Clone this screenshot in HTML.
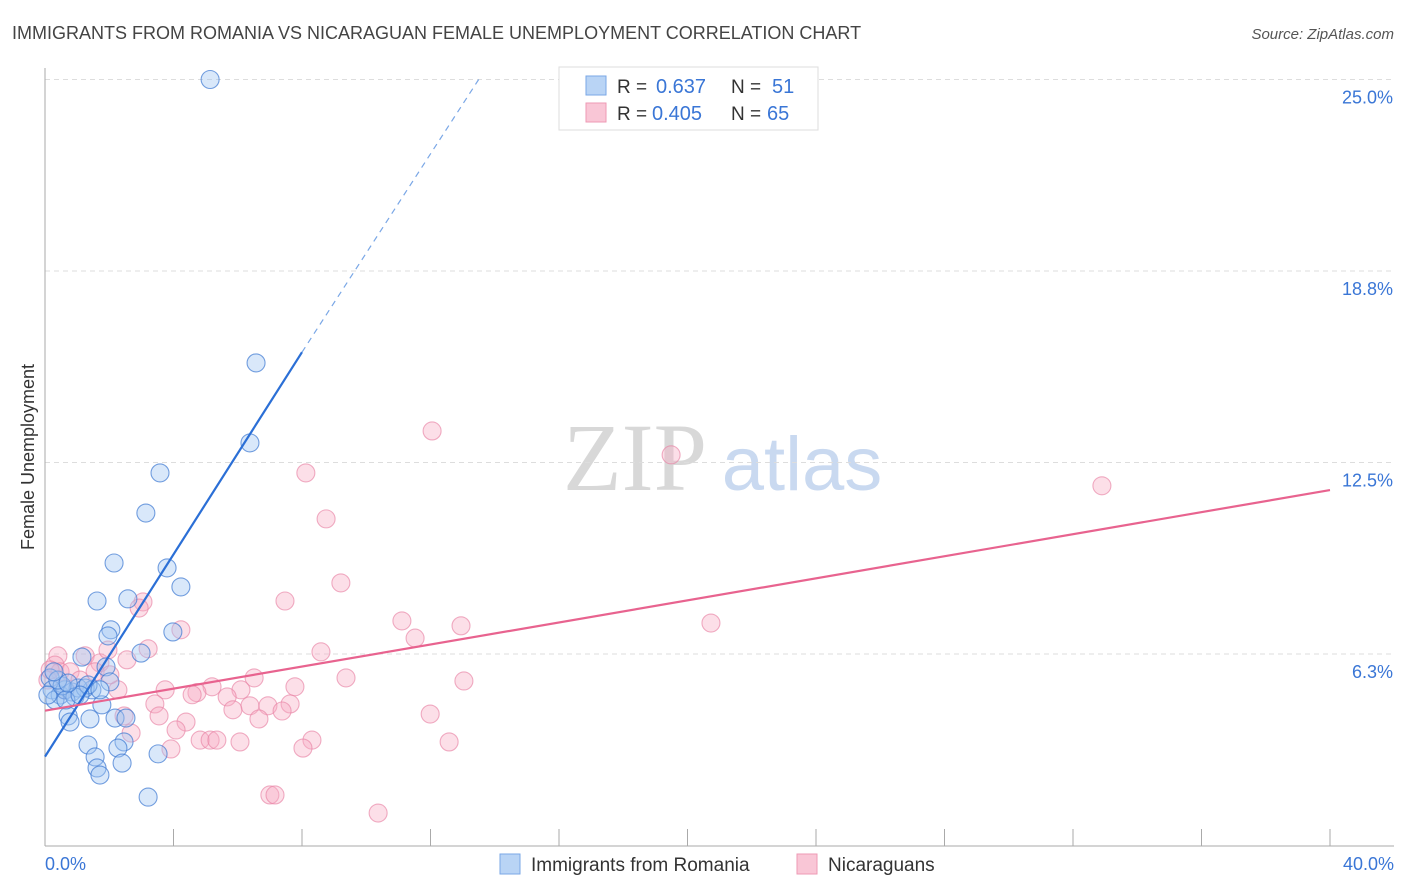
<!DOCTYPE html>
<html><head><meta charset="utf-8"><style>
body{margin:0;background:#fff;font-family:"Liberation Sans",sans-serif;}
#c{position:relative;width:1406px;height:892px;overflow:hidden;}
</style></head><body>
<div id="c">
<svg id="s" width="1406" height="892" xmlns="http://www.w3.org/2000/svg">
<text x="12" y="39" font-size="18" fill="#444">IMMIGRANTS FROM ROMANIA VS NICARAGUAN FEMALE UNEMPLOYMENT CORRELATION CHART</text>
<text x="1394" y="39" font-size="15" font-style="italic" fill="#555" text-anchor="end">Source: ZipAtlas.com</text>
<text x="34" y="457" font-size="18" fill="#333" text-anchor="middle" transform="rotate(-90 34 457)">Female Unemployment</text>
<g><text x="635" y="490" font-size="96" font-family="Liberation Serif,serif" fill="#d8d8d8" text-anchor="middle">ZIP</text><text x="802" y="490" font-size="76" fill="#c9d9f0" text-anchor="middle">atlas</text></g>
<g id="grid"></g><g id="axes"></g><g id="pts"></g><g id="lines"></g>
<g>
<rect x="559" y="67" width="259" height="63" fill="#fff" stroke="#ddd"/>
<rect x="586" y="76" width="20" height="19" fill="#b9d4f5" stroke="#7aa7e6"/>
<rect x="586" y="103" width="20" height="19" fill="#f9c6d6" stroke="#ee9ab4"/>
<text x="617" y="93" font-size="19" fill="#333">R =</text><text x="656" y="93" font-size="20" fill="#3a76d6">0.637</text>
<text x="731" y="93" font-size="19" fill="#333">N =</text><text x="772" y="93" font-size="20" fill="#3a76d6">51</text>
<text x="617" y="120" font-size="19" fill="#333">R =</text><text x="652" y="120" font-size="20" fill="#3a76d6">0.405</text>
<text x="731" y="120" font-size="19" fill="#333">N =</text><text x="767" y="120" font-size="20" fill="#3a76d6">65</text>
</g>
<g>
<rect x="500" y="854" width="20" height="20" fill="#b9d4f5" stroke="#7aa7e6"/>
<text x="531" y="871" font-size="19" fill="#333">Immigrants from Romania</text>
<rect x="797" y="854" width="20" height="20" fill="#f9c6d6" stroke="#ee9ab4"/>
<text x="828" y="871" font-size="19" fill="#333">Nicaraguans</text>
</g>
</svg>
</div>
<script>
const xTicks=[0,40];
const yTicks=[6.25,12.5,18.75,25];
const yTickLabels=["6.3%","12.5%","18.8%","25.0%"];
const blueX=[5.14,6.57,6.38,3.58,3.14,2.15,3.80,4.23,1.62,2.58,2.05,1.96,3.98,2.99,1.15,1.90,2.02,1.46,1.77,0.72,0.78,1.40,2.18,2.52,2.46,1.34,2.27,1.56,1.62,1.71,2.40,3.52,3.21,0.16,0.22,0.47,0.31,0.62,0.84,1.03,1.25,0.93,1.34,0.09,0.53,0.40,0.65,0.28,1.09,0.72,1.71];
const blueY=[25.0,15.75,13.14,12.16,10.85,9.22,9.06,8.44,7.98,8.05,7.04,6.84,6.97,6.28,6.15,5.83,5.34,5.08,4.59,4.23,4.03,4.13,4.16,4.16,3.38,3.28,3.18,2.89,2.53,2.30,2.69,2.99,1.58,5.47,5.08,4.91,4.75,5.08,5.01,5.14,5.14,4.85,5.24,4.91,5.21,5.40,4.75,5.67,4.91,5.30,5.08];
const pinkX=[12.05,8.12,19.49,32.90,8.75,9.21,7.47,3.05,2.93,11.11,12.95,20.73,11.52,4.23,3.21,8.59,0.40,1.25,2.55,1.71,6.51,9.37,13.04,7.78,5.20,6.10,3.74,2.27,4.73,4.58,5.67,3.42,7.63,6.38,5.85,6.94,7.38,2.46,3.55,6.66,11.99,4.39,4.08,2.68,4.83,5.14,5.35,6.07,8.31,8.03,3.92,12.58,7.00,7.16,10.37,0.31,0.47,0.78,0.09,1.09,1.56,1.96,0.62,0.16,2.02];
const pinkY=[13.53,12.16,12.75,11.74,10.66,8.57,7.98,7.95,7.75,7.33,7.17,7.26,6.77,7.04,6.42,6.32,6.19,6.19,6.06,5.96,5.47,5.47,5.37,5.18,5.18,5.08,5.08,5.08,4.99,4.92,4.85,4.62,4.62,4.56,4.43,4.56,4.39,4.23,4.23,4.13,4.29,4.03,3.77,3.67,3.44,3.44,3.44,3.38,3.44,3.18,3.15,3.38,1.65,1.65,1.06,5.89,5.67,5.67,5.40,5.40,5.67,6.38,5.08,5.73,5.57];
const blueTrend=[[0,2.9],[8.0,16.1],[13.5,25.0]];
const pinkTrend=[[0,4.4],[40,11.6]];
const NS="http://www.w3.org/2000/svg";
const X0=45,X1=1330,YB=845.5,PX=191.5/6.25;
const sx=v=>X0+v/40*(X1-X0);
const sy=v=>YB-v*PX;
function mk(t,a,p){const e=document.createElementNS(NS,t);for(const k in a)e.setAttribute(k,a[k]);p.appendChild(e);return e;}
const grid=document.getElementById('grid'),axes=document.getElementById('axes');
yTicks.forEach((t,i)=>{
 const l=mk('line',{x1:45,x2:1394,y1:sy(t),y2:sy(t),stroke:'#ddd','stroke-dasharray':'5,4'},grid);
 
 
 const tx=mk('text',{x:1393,y:sy(t)+24,'font-size':18,fill:'#3a76d6','text-anchor':'end'},axes);
 tx.textContent=yTickLabels[i];
 
 
});
const ax=mk('line',{x1:45,x2:45,y1:68,y2:846,stroke:'#aaa'},axes);


const bx=mk('line',{x1:45,x2:1394,y1:846,y2:846,stroke:'#aaa'},axes);


for(let i=1;i<=10;i++){const t=mk('line',{x1:sx(i*4),x2:sx(i*4),y1:829,y2:846,stroke:'#aaa'},axes);
 
 }
xTicks.forEach((t,i)=>{const tx=mk('text',{x:i?1394:45,y:870,'font-size':18,fill:'#3a76d6','text-anchor':i?'end':'start'},axes);
 tx.textContent=t.toFixed(1)+'%';
 
 });
const pts=document.getElementById('pts');
pinkX.forEach((x,i)=>{const c=mk('circle',{cx:sx(x),cy:sy(pinkY[i]),r:9,fill:'rgba(246,170,195,0.38)',stroke:'rgba(232,130,165,0.65)','stroke-width':1.1},pts);
 
 });
blueX.forEach((x,i)=>{const c=mk('circle',{cx:sx(x),cy:sy(blueY[i]),r:9,fill:'rgba(160,198,242,0.4)',stroke:'rgba(60,120,210,0.7)','stroke-width':1.1},pts);
 
 });
const lines=document.getElementById('lines');
const b1=mk('line',{x1:sx(blueTrend[0][0]),y1:sy(blueTrend[0][1]),x2:sx(blueTrend[1][0]),y2:sy(blueTrend[1][1]),stroke:'#2b6fd6','stroke-width':2.2},lines);


const b2=mk('line',{x1:sx(blueTrend[1][0]),y1:sy(blueTrend[1][1]),x2:sx(blueTrend[2][0]),y2:sy(blueTrend[2][1]),stroke:'#7aa7e6','stroke-width':1.2,'stroke-dasharray':'6,5'},lines);


const p1=mk('line',{x1:sx(pinkTrend[0][0]),y1:sy(pinkTrend[0][1]),x2:sx(pinkTrend[1][0]),y2:sy(pinkTrend[1][1]),stroke:'#e8638f','stroke-width':2.2},lines);


</script>
</body></html>
